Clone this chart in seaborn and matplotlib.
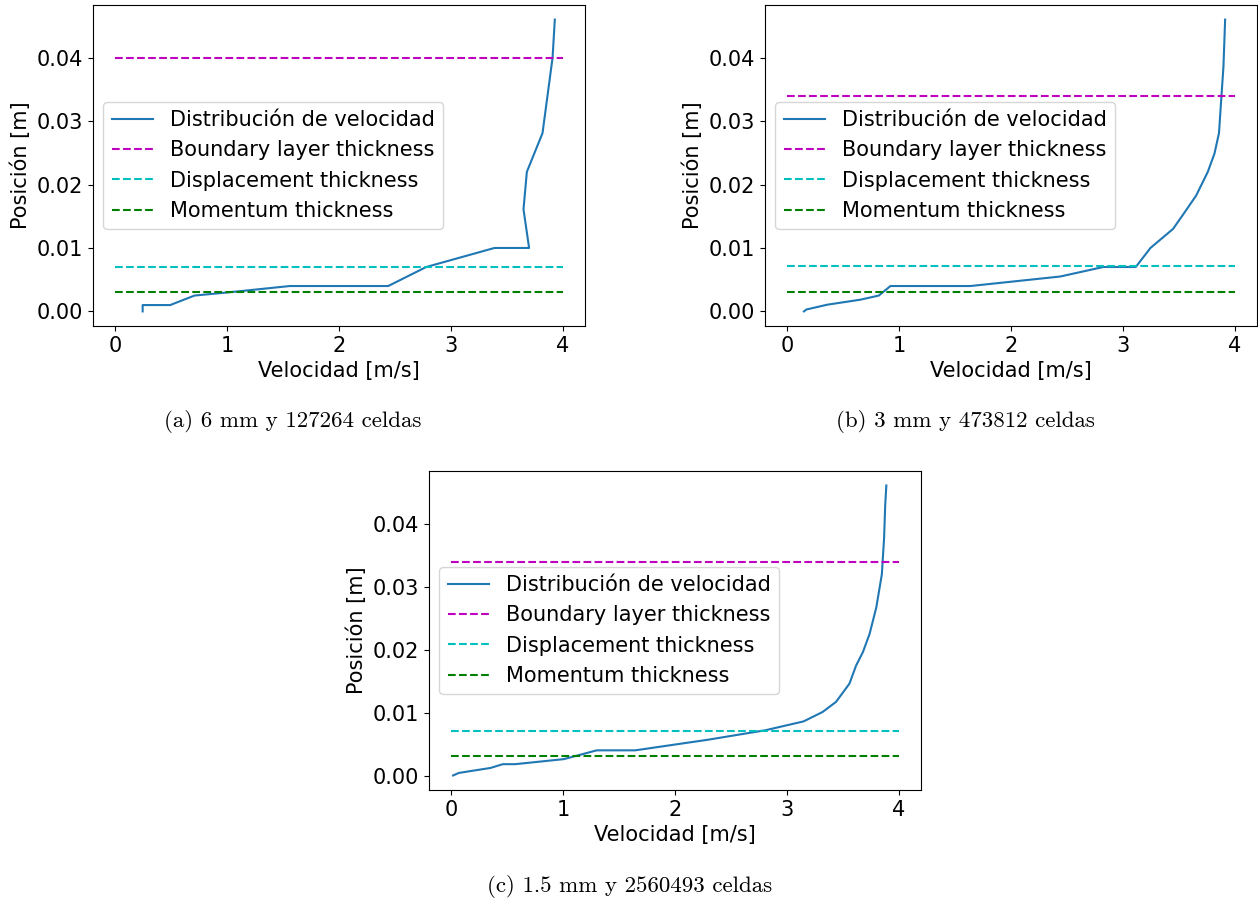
import matplotlib
matplotlib.use("Agg")
import matplotlib.pyplot as plt
import seaborn as sns
import pandas as pd

# ---- data ----
vel_a = [0.244, 0.244, 0.49, 0.708, 1.01, 1.56, 2.44, 2.78, 3.39, 3.70, 3.65, 3.68, 3.82, 3.91, 3.93]
pos_a = [0.0, 0.001, 0.001, 0.0025, 0.003, 0.004, 0.004, 0.007, 0.010, 0.010, 0.0161, 0.022, 0.0281, 0.040, 0.046]
bl_a, disp_a, mom_a = 0.040, 0.0070, 0.0031

vel_b = [0.148, 0.17, 0.357, 0.654, 0.818, 0.922, 1.636, 2.44, 2.825, 3.116, 3.247, 3.449, 3.568,
         3.657, 3.76, 3.82, 3.86, 3.88, 3.90, 3.915]
pos_b = [0.0, 0.0003, 0.00106, 0.00185, 0.0025, 0.004, 0.004, 0.0055, 0.007, 0.007, 0.010, 0.013, 0.016,
         0.0183, 0.022, 0.0249, 0.0281, 0.0334, 0.0386, 0.046]
bl_b, disp_b, mom_b = 0.034, 0.0071, 0.0031

vel_c = [0.015, 0.065, 0.17, 0.35, 0.46, 0.57, 1.005, 1.30, 1.645, 2.30, 2.81, 3.15, 3.32, 3.44,
         3.56, 3.62, 3.68, 3.74, 3.80, 3.85, 3.87, 3.88, 3.89]
pos_c = [0.0, 0.0004, 0.0007, 0.0012, 0.0018, 0.0018, 0.0026, 0.0040, 0.0040, 0.0057, 0.0072, 0.0086,
         0.0101, 0.0117, 0.0146, 0.0175, 0.0196, 0.0225, 0.0267, 0.032, 0.0378, 0.043, 0.0461]
bl_c, disp_c, mom_c = 0.034, 0.00705, 0.0031

x_range = [0, 4]
captions = ["(a) 6 mm y 127264 celdas", "(b) 3 mm y 473812 celdas", "(c) 1.5 mm y 2560493 celdas"]
labels = ["Distribución de velocidad", "Boundary layer thickness",
          "Displacement thickness", "Momentum thickness"]

plt.rcParams["font.family"] = ["DejaVu Sans"]
FS = 15

fig = plt.figure(figsize=(12.58, 9.0), dpi=100)
W, H = 1258, 900
boxes = [(93, 5, 585, 326), (765, 5, 1257, 326), (429, 471, 921, 790)]
cap_pos = [(293, 421), (965, 421), (630, 886)]
panels = [(vel_a, pos_a, bl_a, disp_a, mom_a),
          (vel_b, pos_b, bl_b, disp_b, mom_b),
          (vel_c, pos_c, bl_c, disp_c, mom_c)]

for (l, t, r, b), (vel, pos, bl, dp, mo), cap, (cx, cy) in zip(boxes, panels, captions, cap_pos):
    ax = fig.add_axes([l / W, 1 - b / H, (r - l) / W, (b - t) / H])
    df = pd.DataFrame({"v": vel, "y": pos})
    sns.lineplot(data=df, x="v", y="y", sort=False, estimator=None, ax=ax,
                 color="#1f77b4", linewidth=1.5, label=labels[0])
    for val, col, lab in [(bl, "m", labels[1]), (dp, "c", labels[2]), (mo, "g", labels[3])]:
        dh = pd.DataFrame({"v": x_range, "y": [val, val]})
        sns.lineplot(data=dh, x="v", y="y", ax=ax, color=col, linestyle="--",
                     linewidth=1.5, label=lab)
    ax.set_xlabel("Velocidad [m/s]", fontsize=FS)
    ax.set_ylabel("Posición [m]", fontsize=FS)
    ax.tick_params(labelsize=FS)
    ax.set_xticks([0, 1, 2, 3, 4])
    ax.set_yticks([0.0, 0.01, 0.02, 0.03, 0.04])
    ax.yaxis.set_major_formatter(matplotlib.ticker.FormatStrFormatter("%.2f"))
    ax.legend(loc="center left", fontsize=FS)
    fig.text(cx / W, 1 - cy / H, cap, ha="center", va="center", fontsize=16.5,
             family=["cmr10", "DejaVu Serif"])

fig.savefig("out.png", dpi=100)
